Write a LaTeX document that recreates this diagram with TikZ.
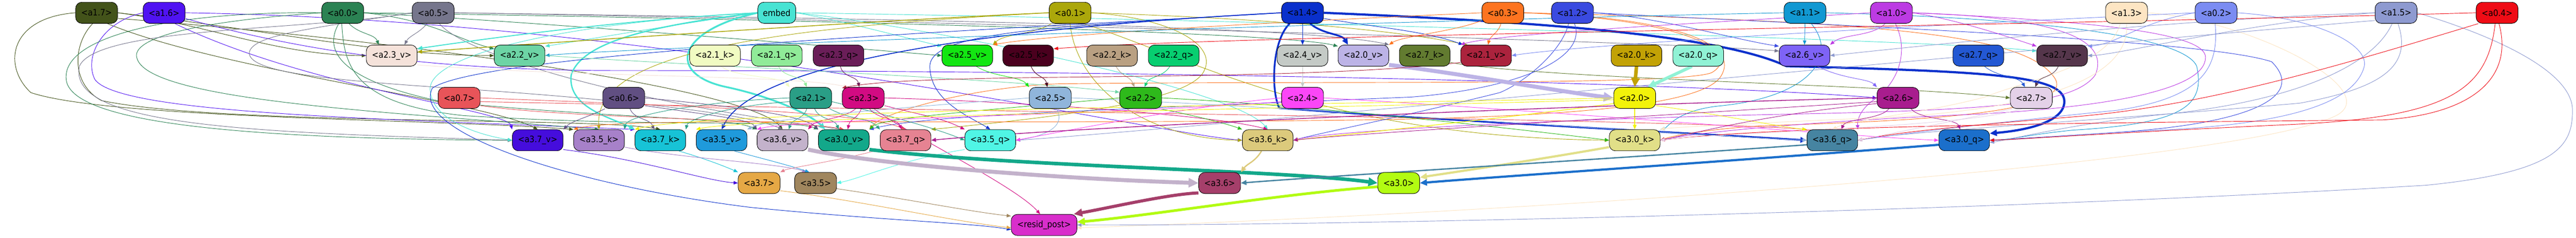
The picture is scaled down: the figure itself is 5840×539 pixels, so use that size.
\documentclass[tikz,border=0pt]{standalone}
\usepackage{fontspec}
\newfontfamily\nodefont{DejaVu Sans}[FakeStretch=0.9]
\usetikzlibrary{arrows.meta}
\pgfdeclarelayer{bg}
\pgfsetlayers{bg,main}
\definecolor{c17}{HTML}{43531A}\definecolor{c16}{HTML}{5013F2}\definecolor{c00}{HTML}{2B8253}
\definecolor{c05}{HTML}{76768C}\definecolor{cem}{HTML}{48E3D3}\definecolor{c01}{HTML}{ABA70B}
\definecolor{c14}{HTML}{0A30CC}\definecolor{c03}{HTML}{FD7420}\definecolor{c12}{HTML}{3A4AE0}
\definecolor{c11}{HTML}{1198D2}\definecolor{c10}{HTML}{BC3BE3}\definecolor{c13}{HTML}{FDE5C3}
\definecolor{c02}{HTML}{7B8CF2}\definecolor{c15}{HTML}{8E9AD0}\definecolor{c04}{HTML}{EF0C16}
\definecolor{c23v}{HTML}{F5E2DA}\definecolor{c22v}{HTML}{6DD4A5}\definecolor{c21k}{HTML}{F1FBC2}
\definecolor{c21q}{HTML}{90EB98}\definecolor{c23q}{HTML}{6A1E58}\definecolor{c25v}{HTML}{13E612}
\definecolor{c25k}{HTML}{4A001E}\definecolor{c22k}{HTML}{B9A082}\definecolor{c22q}{HTML}{07CE70}
\definecolor{c24v}{HTML}{C4CAC6}\definecolor{c20v}{HTML}{BCB3E6}\definecolor{c27k}{HTML}{627B30}
\definecolor{c21v}{HTML}{AB233D}\definecolor{c20k}{HTML}{C2A205}\definecolor{c20q}{HTML}{90F2D5}
\definecolor{c26v}{HTML}{7E63F6}\definecolor{c27q}{HTML}{2358D3}\definecolor{c27v}{HTML}{55364B}
\definecolor{c07}{HTML}{E85459}\definecolor{c06}{HTML}{614F82}\definecolor{c21}{HTML}{2A9E86}
\definecolor{c23}{HTML}{D20B82}\definecolor{c25}{HTML}{90B5DB}\definecolor{c22}{HTML}{2EB91B}
\definecolor{c24}{HTML}{FB46F7}\definecolor{c20}{HTML}{F2F20A}\definecolor{c26}{HTML}{A81D8E}
\definecolor{c27}{HTML}{E4D1E8}\definecolor{c37v}{HTML}{450DDC}\definecolor{c35k}{HTML}{A781C9}
\definecolor{c37k}{HTML}{17C3D6}\definecolor{c35v}{HTML}{1F9ADB}\definecolor{c36v}{HTML}{C3B2CB}
\definecolor{c30v}{HTML}{13A88A}\definecolor{c37q}{HTML}{E68392}\definecolor{c35q}{HTML}{50F5E5}
\definecolor{c36k}{HTML}{DCCA7C}\definecolor{c30k}{HTML}{E1DF88}\definecolor{c36q}{HTML}{4684A1}
\definecolor{c30q}{HTML}{1B6FCB}\definecolor{c37}{HTML}{E5A845}\definecolor{c35}{HTML}{A0865E}
\definecolor{c36}{HTML}{A53F6A}\definecolor{c30}{HTML}{B2FB12}\definecolor{cres}{HTML}{D82ECB}
\begin{document}
\begin{tikzpicture}[x=1pt,y=-1pt,
  nd/.style={draw=black, line width=1pt, rounded corners=14pt, minimum height=48pt, minimum width=95pt, inner sep=0pt, fill=#1, text=black, font=\nodefont\fontsize{20pt}{24pt}\selectfont},
  wd/.style={nd=#1, minimum width=115pt},
  ed/.style={draw=#1, line width=1.1pt, -{Triangle[length=8pt 1.6,width=6pt 1.6]}}]
\useasboundingbox (0,0) rectangle (5840,539);
% row 1
\node[nd=c17] (a17) at (219,29) {<a1.7>};
\node[nd=c16] (a16) at (372,29) {<a1.6>};
\node[nd=c00] (a00) at (777,29) {<a0.0>};
\node[nd=c05] (a05) at (982,29) {<a0.5>};
\node[nd=cem, minimum width=86pt] (emb) at (1761,29) {embed};
\node[nd=c01] (a01) at (2426,29) {<a0.1>};
\node[nd=c14] (a14) at (2953,29) {<a1.4>};
\node[nd=c03] (a03) at (3407,29) {<a0.3>};
\node[nd=c12] (a12) at (3565,29) {<a1.2>};
\node[nd=c11] (a11) at (4092,29) {<a1.1>};
\node[nd=c10] (a10) at (4288,29) {<a1.0>};
\node[nd=c13] (a13) at (4821,29) {<a1.3>};
\node[nd=c02] (a02) at (5024,29) {<a0.2>};
\node[nd=c15] (a15) at (5432,29) {<a1.5>};
\node[nd=c04] (a04) at (5661,29) {<a0.4>};
% row 2
\node[wd=c23v] (a23v) at (888,126) {<a2.3\_v>};
\node[wd=c22v] (a22v) at (1178,126) {<a2.2\_v>};
\node[wd=c21k] (a21k) at (1621,126) {<a2.1\_k>};
\node[wd=c21q] (a21q) at (1761,126) {<a2.1\_q>};
\node[wd=c23q] (a23q) at (1901,126) {<a2.3\_q>};
\node[wd=c25v] (a25v) at (2193,126) {<a2.5\_v>};
\node[wd=c25k] (a25k) at (2331,126) {<a2.5\_k>};
\node[wd=c22k] (a22k) at (2521,126) {<a2.2\_k>};
\node[wd=c22q] (a22q) at (2661,126) {<a2.2\_q>};
\node[wd=c24v] (a24v) at (2953,126) {<a2.4\_v>};
\node[wd=c20v] (a20v) at (3091,126) {<a2.0\_v>};
\node[wd=c27k] (a27k) at (3230,126) {<a2.7\_k>};
\node[wd=c21v] (a21v) at (3369,126) {<a2.1\_v>};
\node[wd=c20k] (a20k) at (3710,126) {<a2.0\_k>};
\node[wd=c20q] (a20q) at (3850,126) {<a2.0\_q>};
\node[wd=c26v] (a26v) at (4091,126) {<a2.6\_v>};
\node[wd=c27q] (a27q) at (4485,126) {<a2.7\_q>};
\node[wd=c27v] (a27v) at (4675,126) {<a2.7\_v>};
% row 3
\node[nd=c07] (a07) at (1041,222) {<a0.7>};
\node[nd=c06] (a06) at (1414,222) {<a0.6>};
\node[nd=c21] (a21) at (1838,222) {<a2.1>};
\node[nd=c23] (a23) at (1957,222) {<a2.3>};
\node[nd=c25] (a25) at (2381,222) {<a2.5>};
\node[nd=c22] (a22) at (2586,222) {<a2.2>};
\node[nd=c24] (a24) at (2953,222) {<a2.4>};
\node[nd=c20] (a20) at (3706,222) {<a2.0>};
\node[nd=c26] (a26) at (4303,222) {<a2.6>};
\node[nd=c27] (a27) at (4605,222) {<a2.7>};
% row 4
\node[wd=c37v] (a37v) at (1219,318) {<a3.7\_v>};
\node[wd=c35k] (a35k) at (1358,318) {<a3.5\_k>};
\node[wd=c37k] (a37k) at (1497,318) {<a3.7\_k>};
\node[wd=c35v] (a35v) at (1636,318) {<a3.5\_v>};
\node[wd=c36v] (a36v) at (1774,318) {<a3.6\_v>};
\node[wd=c30v] (a30v) at (1913,318) {<a3.0\_v>};
\node[wd=c37q] (a37q) at (2053,318) {<a3.7\_q>};
\node[wd=c35q] (a35q) at (2245,318) {<a3.5\_q>};
\node[wd=c36k] (a36k) at (2874,318) {<a3.6\_k>};
\node[wd=c30k] (a30k) at (3706,318) {<a3.0\_k>};
\node[wd=c36q] (a36q) at (4154,318) {<a3.6\_q>};
\node[wd=c30q] (a30q) at (4453,318) {<a3.0\_q>};
% row 5, 6
\node[nd=c37] (a37) at (1721,415) {<a3.7>};
\node[nd=c35] (a35) at (1849,415) {<a3.5>};
\node[nd=c36] (a36) at (2765,415) {<a3.6>};
\node[nd=c30] (a30) at (3171,415) {<a3.0>};
\node[nd=cres, minimum width=149pt] (resid) at (2367,510) {<resid\_post>};

\begin{pgfonlayer}{bg}
\fill[white] (0,0) rectangle (5840,539);
% a1.7
\draw[ed=c17] (a17.east) .. controls +(200,25) and +(-200,0) .. (a23v.west);
\draw[ed=c17] (a17.east) .. controls +(350,40) and +(-250,0) .. (a22v.west);
\draw[ed=c17] (a17.west) .. controls (20,40) and (5,150) .. (70,210) .. controls (250,270) and (1000,270) .. (a35k.north west);
\draw[ed=c17] (a17.-110) .. controls (165,100) and (160,190) .. (230,228) .. controls (500,285) and (1350,265) .. (a37k.north);
\draw[ed=c17] (a17.-45) .. controls (500,160) and (1100,230) .. (a37v.north);
\draw[ed=c17] (a17.-15) .. controls (900,90) and (1700,200) .. (a36v.north);
% a1.6
\draw[ed=c16] (a16.west) .. controls (230,50) and (190,130) .. (215,180) .. controls (270,260) and (900,270) .. (a37k.north west);
\draw[ed=c16] (a16.-45) .. controls (700,200) and (1150,250) .. (a37v.north west);
\draw[ed=c16] (a16.east) .. controls (1500,45) and (2600,300) .. (a36k.west);
\draw[ed=c16] (a16.-15) .. controls (700,120) and (1000,160) .. (1400,160) .. controls (3000,160) and (4000,200) .. (a26.west);
% a0.0
\draw[ed=c00] (a00.-60) .. controls +(25,25) and +(-10,-25) .. (a23v.140);
\draw[ed=c00] (a00.east) .. controls +(150,15) and +(-80,-20) .. (a22v.165);
\draw[ed=c00] (a00.east) .. controls (1300,55) and (2000,115) .. (a25v.west);
\draw[ed=c00] (a00.east) .. controls (1600,40) and (2900,70) .. (a20v.160);
\draw[ed=c00] (a00.west) .. controls (400,25) and (140,80) .. (150,180) .. controls (160,285) and (600,315) .. (a37v.west);
\draw[ed=c00] (a00.west) .. controls (420,50) and (300,90) .. (310,130) .. controls (330,230) and (900,255) .. (a35k.north);
\draw[ed=c00] (a00.-110) .. controls (735,110) and (760,180) .. (1000,230) .. controls (1400,270) and (1650,265) .. (a36v.north west);
\draw[ed=c00] (a00.-95) .. controls (780,150) and (800,235) .. (1050,262) .. controls (1500,290) and (1800,270) .. (a30v.north west);
% a0.5
\draw[ed=c05] (a05.-120) .. controls +(-15,20) and +(10,-20) .. (a23v.40);
\draw[ed=c05] (a05.east) .. controls (1800,40) and (2950,55) .. (a20v.north east);
\draw[ed=c05] (a05.east) .. controls (2000,45) and (3800,95) .. (a26v.170);
\draw[ed=c05] (a05.west) .. controls (700,70) and (220,60) .. (180,150) .. controls (150,290) and (600,300) .. (a37v.west);
\draw[ed=c05] (a05.west) .. controls (700,65) and (570,80) .. (565,120) .. controls (565,170) and (800,185) .. (1100,205) .. controls (1450,230) and (1700,260) .. (a36v.north);
\draw[ed=c05] (a05.-60) .. controls (1050,120) and (1400,230) .. (a30v.north);
% embed
\draw[ed=cem, line width=2.2pt] (emb.west) .. controls (1400,45) and (1050,95) .. (a23v.15);
\draw[ed=cem] (emb.west) .. controls (1500,60) and (1300,95) .. (a22v.20);
\draw[ed=cem] (emb.east) .. controls (1900,45) and (2050,85) .. (a25v.160);
\draw[ed=cem] (emb.east) .. controls (2600,40) and (4400,90) .. (a27v.170);
\draw[ed=cem, line width=4pt] (emb.west) .. controls (1530,70) and (1510,170) .. (1650,198) .. controls (1760,222) and (1840,262) .. (a30v.150);
\draw[ed=cem, line width=3pt] (emb.west) .. controls (1500,55) and (1320,90) .. (1295,170) .. controls (1285,245) and (1390,268) .. (a37k.north west);
\draw[ed=cem] (emb.west) .. controls (1300,50) and (980,120) .. (975,200) .. controls (975,270) and (1080,305) .. (a37v.west);
\draw[ed=cem] (emb.east) .. controls (2100,60) and (2800,200) .. (a36k.north);
% a0.1
\draw[ed=c01, line width=1.8pt] (a01.west) .. controls (2000,45) and (1200,100) .. (a23v.8);
\draw[ed=c01] (a01.-150) .. controls +(-40,25) and +(25,-25) .. (a25v.north east);
\draw[ed=c01] (a01.east) .. controls +(450,15) and +(-150,-30) .. (a21v.150);
\draw[ed=c01] (a01.east) .. controls (2650,40) and (2760,100) .. (2730,160) .. controls (2700,230) and (2400,265) .. (a37q.north east);
\draw[ed=c01] (a01.west) .. controls (1800,60) and (1345,110) .. (a35k.north);
\draw[ed=c01] (a01.-90) .. controls (2440,200) and (2600,315) .. (a36k.west);
\draw[ed=c01] (a01.-40) .. controls (2700,130) and (3000,310) .. (a30k.west);
% a1.4
\draw[ed=c14, line width=1.5pt] (a14.south) -- (a24v.north);
\draw[ed=c14, line width=4pt] (a14.-55) .. controls +(30,25) and +(-15,-25) .. (a20v.145);
\draw[ed=c14] (a14.-15) .. controls +(120,20) and +(-80,-30) .. (a21v.155);
\draw[ed=c14, line width=5pt] (a14.east) .. controls (3500,50) and (3900,80) .. (4050,150) .. controls (4500,162) and (4680,170) .. (4680,230) .. controls (4680,275) and (4600,295) .. (a30q.15);
\draw[ed=c14, line width=4pt] (a14.-140) .. controls (2885,90) and (2880,200) .. (2900,245) .. controls (3300,275) and (3800,300) .. (a36q.west);
\draw[ed=c14, line width=2pt] (a14.west) .. controls (2400,55) and (1720,120) .. (a35v.north);
\draw[ed=c14] (a14.west) .. controls (2400,60) and (1100,115) .. (980,200) .. controls (930,300) and (1300,420) .. (1700,470) .. controls (2000,500) and (2200,505) .. (resid.-172);
\draw[ed=c14] (a14.west) .. controls (2400,60) and (2110,70) .. (2108,150) .. controls (2108,230) and (2200,265) .. (a35q.north);
% a0.3
\draw[ed=c03] (a03.-160) .. controls +(-60,25) and +(30,-20) .. (a20v.north east);
\draw[ed=c03] (a03.-100) .. controls +(-5,20) and +(5,-20) .. (a21v.80);
\draw[ed=c03] (a03.west) .. controls (3000,45) and (2400,75) .. (a25v.north east);
\draw[ed=c03] (a03.east) .. controls (3800,40) and (3950,100) .. (3900,175) .. controls (3850,245) and (3500,268) .. (3000,273) .. controls (2000,283) and (1400,265) .. (a35k.north west);
\draw[ed=c03] (a03.east) .. controls (3850,45) and (3950,125) .. (3880,165) .. controls (3800,195) and (3000,183) .. (2400,190) .. controls (2200,198) and (2000,255) .. (a30v.north east);
\draw[ed=c03] (a03.east) .. controls (4300,50) and (4600,80) .. (4660,180) .. controls (4700,262) and (4300,275) .. (4000,285) .. controls (3900,290) and (3800,305) .. (a30k.east);
% a1.2
\draw[ed=c12] (a12.east) .. controls +(150,10) and +(-100,-15) .. (a26v.160);
\draw[ed=c12] (a12.-110) .. controls (3540,120) and (3450,190) .. (3400,210) .. controls (3200,260) and (3000,300) .. (a36k.east);
\draw[ed=c12] (a12.-80) .. controls (3600,130) and (3450,200) .. (3200,220) .. controls (2500,250) and (2100,260) .. (a30v.north east);
\draw[ed=c12] (a12.east) .. controls (4200,60) and (5000,90) .. (5150,140) .. controls (5230,220) and (5100,280) .. (4800,300) .. controls (4650,310) and (4560,315) .. (a30q.east);
% a1.1
\draw[ed=c11] (a11.south) -- (a26v.north);
\draw[ed=c11] (a11.west) .. controls (3000,50) and (1400,110) .. (a22v.east);
\draw[ed=c11] (a11.east) .. controls (4600,40) and (4950,80) .. (4980,150) .. controls (5000,240) and (4950,280) .. (4700,295) .. controls (4600,305) and (4550,318) .. (a30q.east);
\draw[ed=c11] (a11.-60) .. controls (4170,130) and (4100,220) .. (3900,240) .. controls (3800,250) and (3780,290) .. (a30k.north east);
% a1.0
\draw[ed=c10] (a10.west) .. controls (3900,50) and (3400,75) .. (a21v.north west);
\draw[ed=c10] (a10.-120) .. controls +(-30,30) and +(30,-25) .. (a26v.north east);
\draw[ed=c10] (a10.east) .. controls +(100,15) and +(-60,-20) .. (a27v.160);
\draw[ed=c10] (a10.-70) .. controls (4330,120) and (4300,190) .. (4250,225) .. controls (4220,245) and (4210,270) .. (a36q.north east);
\draw[ed=c10] (a10.east) .. controls (4700,40) and (4780,100) .. (4750,170) .. controls (4700,240) and (4500,250) .. (4000,260) .. controls (3400,275) and (3000,300) .. (a36k.east);
\draw[ed=c10] (a10.east) .. controls (4800,50) and (5000,80) .. (5000,130) .. controls (5000,200) and (4800,240) .. (4500,258) .. controls (4100,275) and (3850,300) .. (a30k.east);
% a1.3
\draw[ed=c13] (a13.east) .. controls (5100,45) and (5400,200) .. (5300,260) .. controls (5100,370) and (3500,480) .. (resid.-5);
\draw[ed=c13] (a13.-120) .. controls (4780,150) and (4600,180) .. (4500,220) .. controls (4350,260) and (4200,270) .. (a36q.north);
\draw[ed=c13] (a13.-90) .. controls (4830,150) and (4700,240) .. (4300,265) .. controls (3950,280) and (3780,290) .. (a30k.north east);
% a0.2
\draw[ed=c02] (a02.west) .. controls (4300,60) and (3600,100) .. (a21v.east);
\draw[ed=c02] (a02.west) .. controls (4850,50) and (4800,100) .. (a27v.20);
\draw[ed=c02] (a02.-95) .. controls (5030,150) and (5000,220) .. (4800,250) .. controls (4500,280) and (4300,305) .. (a36q.east);
\draw[ed=c02] (a02.east) .. controls (5250,40) and (5370,100) .. (5360,150) .. controls (5340,230) and (5200,280) .. (4900,295) .. controls (4700,305) and (4560,318) .. (a30q.east);
% a1.5
\draw[ed=c15] (a15.west) .. controls (4900,45) and (4300,110) .. (a26v.east);
\draw[ed=c15] (a15.west) .. controls (5100,50) and (4800,125) .. (a27v.east);
\draw[ed=c15] (a15.-160) .. controls (4500,120) and (2600,300) .. (a35q.east);
\draw[ed=c15] (a15.-110) .. controls (5380,150) and (5200,230) .. (4900,260) .. controls (4700,280) and (4550,318) .. (a30q.-5);
\draw[ed=c15] (a15.-80) .. controls (5470,150) and (5400,200) .. (5213,234) .. controls (4800,270) and (4300,300) .. (a36q.east);
\draw[ed=c15] (a15.east) .. controls (5650,80) and (5832,160) .. (5832,250) .. controls (5832,330) and (5800,390) .. (5500,420) .. controls (4500,480) and (3000,512) .. (resid.east);
% a0.4
\draw[ed=c04] (a04.west) .. controls (4500,60) and (2800,80) .. (a25k.15);
\draw[ed=c04] (a04.-150) .. controls (5300,150) and (5000,240) .. (4700,265) .. controls (4450,285) and (4300,300) .. (a36q.east);
\draw[ed=c04] (a04.-100) .. controls (5640,200) and (5560,265) .. (5200,282) .. controls (4800,300) and (4600,315) .. (a30q.east);
\draw[ed=c04] (a04.-80) .. controls (5700,180) and (5600,260) .. (5400,272) .. controls (4500,280) and (4000,290) .. (a30k.east);
% row 2 sources
\draw[ed=c23v] (a23v.-20) .. controls (1300,175) and (1800,170) .. (a23.145);
\draw[ed=c22v] (a22v.east) .. controls (1600,150) and (2300,180) .. (a22.165);
\draw[ed=c21k] (a21k.-60) .. controls +(30,25) and +(-20,-25) .. (a21.north west);
\draw[ed=c21q] (a21q.-80) .. controls +(10,25) and +(-10,-25) .. (a21.110);
\draw[ed=c23q] (a23q.-80) .. controls +(5,25) and +(-5,-25) .. (a23.110);
\draw[ed=c25v] (a25v.-50) .. controls +(40,25) and +(-20,-25) .. (a25.north west);
\draw[ed=c25k] (a25k.-75) .. controls +(10,25) and +(-5,-25) .. (a25.105);
\draw[ed=c22k] (a22k.-70) .. controls +(15,25) and +(-10,-25) .. (a22.120);
\draw[ed=c22q] (a22q.-110) .. controls +(-15,25) and +(10,-25) .. (a22.70);
\draw[ed=c24v, line width=1.5pt] (a24v.south) -- (a24.north);
\draw[ed=c20v, line width=9pt] (a20v.-20) .. controls (3300,165) and (3550,210) .. (a20.west);
\draw[ed=c27k] (a27k.-15) .. controls (3500,180) and (4300,192) .. (a27.west);
\draw[ed=c21v] (a21v.-165) .. controls (2900,190) and (2100,160) .. (a23.155);
\draw[ed=c20k, line width=8pt] (a20k.south) -- (a20.north);
\draw[ed=c20q, line width=7pt] (a20q.-120) -- (a20.40);
\draw[ed=c26v] (a26v.-40) .. controls +(60,30) and +(-20,-20) .. (a26.north west);
\draw[ed=c27q] (a27q.-60) .. controls +(30,25) and +(-15,-25) .. (a27.120);
\draw[ed=c27v] (a27v.-110) .. controls +(-10,25) and +(10,-25) .. (a27.70);
% row 3 sources
\draw[ed=c07] (a07.east) .. controls (1400,235) and (1950,250) .. (a37q.north);
\draw[ed=c07] (a07.-20) .. controls (1300,270) and (1800,270) .. (a30v.north);
\draw[ed=c07] (a07.-10) .. controls (2000,250) and (3800,270) .. (a36q.north west);
\draw[ed=c06] (a06.-60) .. controls +(10,25) and +(-10,-25) .. (a37k.120);
\draw[ed=c06] (a06.-150) .. controls +(-40,20) and +(20,-20) .. (a37v.north east);
\draw[ed=c06] (a06.east) .. controls (1650,240) and (1820,260) .. (a30v.north west);
\draw[ed=c06] (a06.-20) .. controls (1600,260) and (1700,270) .. (a36v.north west);
\draw[ed=c21] (a21.-110) .. controls +(-8,25) and +(8,-25) .. (a36v.60);
\draw[ed=c21] (a21.-70) .. controls +(10,25) and +(-10,-25) .. (a30v.115);
\draw[ed=c21] (a21.-30) .. controls +(60,30) and +(-30,-30) .. (a37q.north west);
\draw[ed=c21] (a21.-10) .. controls (2000,258) and (2120,290) .. (a35q.west);
\draw[ed=c21] (a21.west) .. controls (1600,230) and (1420,260) .. (a35k.north east);
\draw[ed=c21] (a21.-170) .. controls (1650,240) and (1560,270) .. (a37k.north east);
\draw[ed=c23] (a23.-125) .. controls +(-30,25) and +(20,-25) .. (a36v.north east);
\draw[ed=c23] (a23.-100) .. controls +(-10,25) and +(5,-25) .. (a30v.70);
\draw[ed=c23] (a23.-60) .. controls +(20,25) and +(-10,-25) .. (a37q.110);
\draw[ed=c23] (a23.-20) .. controls +(100,25) and +(-50,-25) .. (a35q.north west);
\draw[ed=c23] (a23.-45) .. controls (2050,300) and (2300,420) .. (resid.110);
\draw[ed=c23] (a23.east) .. controls (2300,230) and (2750,260) .. (a36k.north);
\draw[ed=c25] (a25.west) .. controls (2100,240) and (1750,265) .. (a35v.north east);
\draw[ed=c25] (a25.east) .. controls (2900,240) and (3800,305) .. (a36q.west);
\draw[ed=c25] (a25.-60) .. controls (2420,290) and (2360,310) .. (a35q.east);
\draw[ed=c22] (a22.-30) .. controls (2700,260) and (2780,280) .. (a36k.north west);
\draw[ed=c22] (a22.east) .. controls (3000,240) and (3500,300) .. (a30k.west);
\draw[ed=c22] (a22.west) .. controls (2300,245) and (2000,265) .. (a30v.north east);
\draw[ed=c24] (a24.west) .. controls (2700,240) and (2400,300) .. (a35q.east);
\draw[ed=c24] (a24.east) .. controls (3500,250) and (4200,310) .. (a30q.west);
\draw[ed=c24] (a24.-170) .. controls (2500,262) and (1800,270) .. (a36v.north west);
\draw[ed=c20, line width=1.5pt] (a20.south) -- (a30k.north);
\draw[ed=c20] (a20.-20) .. controls (3900,260) and (4050,290) .. (a36q.north west);
\draw[ed=c20, line width=1.5pt] (a20.-165) .. controls (3400,270) and (3000,310) .. (a36k.east);
\draw[ed=c20] (a20.west) .. controls (3000,238) and (1600,250) .. (a37k.north west);
\draw[ed=c20] (a20.-175) .. controls (3000,245) and (1700,265) .. (a35v.north west);
\draw[ed=c26] (a26.-40) .. controls +(20,25) and +(-10,-25) .. (a30q.110);
\draw[ed=c26] (a26.-130) .. controls +(-20,25) and +(10,-25) .. (a36q.50);
\draw[ed=c26, line width=1.8pt] (a26.west) .. controls (3500,240) and (2400,290) .. (a37q.east);
\draw[ed=c26] (a26.-165) .. controls (4000,260) and (3850,300) .. (a30k.east);
\draw[ed=c26] (a26.-170) .. controls (3800,260) and (3100,300) .. (a36k.east);
\draw[ed=c27] (a27.-150) .. controls (4450,270) and (4300,300) .. (a36q.east);
\draw[ed=c27] (a27.-130) .. controls (4450,290) and (3900,300) .. (a30k.east);
% row 4 sources
\draw[ed=c37v] (a37v.-20) .. controls (1450,360) and (1600,410) .. (a37.west);
\draw[ed=c37k] (a37k.-30) .. controls (1600,360) and (1650,380) .. (a37.north west);
\draw[ed=c35k] (a35k.-15) .. controls (1550,360) and (1770,370) .. (a35.130);
\draw[ed=c35v] (a35v.-40) .. controls (1730,360) and (1790,375) .. (a35.120);
\draw[ed=c37q] (a37q.-160) .. controls (1900,365) and (1790,380) .. (a37.north east);
\draw[ed=c35q] (a35q.-160) .. controls (2050,360) and (1950,405) .. (a35.east);
\draw[ed=c36v, line width=9pt] (a36v.-20) .. controls (2000,375) and (2400,405) .. (a36.west);
\draw[ed=c30v, line width=8pt] (a30v.-20) .. controls (2300,378) and (2900,385) .. (a30.west);
\draw[ed=c36k, line width=3pt] (a36k.-120) .. controls +(-15,25) and +(15,-20) .. (a36.north east);
\draw[ed=c30k, line width=5pt] (a30k.-165) .. controls (3500,360) and (3300,390) .. (a30.15);
\draw[ed=c36q, line width=3pt] (a36q.-170) .. controls (3800,350) and (3000,400) .. (a36.east);
\draw[ed=c30q, line width=5pt] (a30q.-170) .. controls (4000,360) and (3400,400) .. (a30.east);
% row 5 sources
\draw[ed=c37] (a37.-20) .. controls (1950,455) and (2150,500) .. (resid.-175);
\draw[ed=c35] (a35.-15) .. controls (2050,450) and (2200,480) .. (resid.165);
\draw[ed=c36, line width=7pt] (a36.-155) .. controls (2650,440) and (2520,470) .. (resid.20);
\draw[ed=c30, line width=6pt] (a30.-170) .. controls (2900,440) and (2600,490) .. (resid.5);
\end{pgfonlayer}
\end{tikzpicture}
\end{document}
